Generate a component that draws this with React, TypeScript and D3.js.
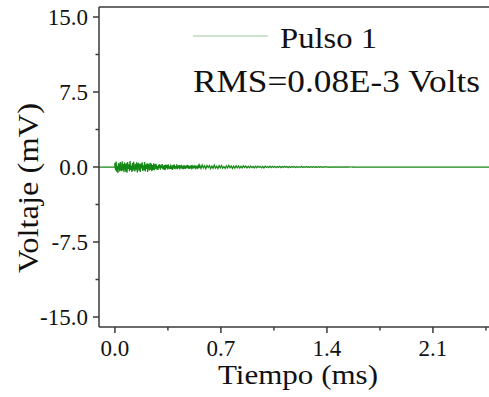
import React from "react";
import * as d3 from "d3";

// Signal samples (mV)
const burstStart = 0; // ms
const burstStep = 0.004; // ms per sample
const burstValues = [
  0.42, -0.31, 0.55, -0.48, 0.12, -0.6, 0.38, 0.2, -0.45, 0.5, -0.22, -0.4, 0.58, -0.35, 0.3, -0.52,
  0.44, 0.05, -0.47, 0.36, -0.58, 0.49, -0.18, 0.27, -0.42, 0.6, -0.3, 0.15, -0.5, 0.4, -0.38, 0.52,
  -0.1, -0.44, 0.33, -0.26, 0.48, -0.55, 0.22, 0.41, -0.36, 0.29, -0.49, 0.35, -0.15, 0.46, -0.4, 0.18,
  -0.32, 0.5, -0.45, 0.25, -0.2, 0.38, -0.5, 0.3, 0.08, -0.35, 0.42, -0.28, 0.34, -0.41, 0.2, -0.3, 0.37,
  -0.33, 0.26, -0.18, 0.31, -0.25, 0.1, -0.3, 0.22, -0.12, 0.28, -0.27, 0.17, -0.08, 0.3, -0.22, 0.15,
  -0.26, 0.2, -0.31, 0.24, -0.1, 0.18, -0.24, 0.27, -0.16, 0.06, -0.2, 0.25, -0.19, 0.12, -0.28, 0.21,
  -0.14, 0.23, -0.2, 0.09, -0.17, 0.26, -0.22, 0.14, -0.1, 0.2, -0.25, 0.16, -0.12, 0.22, -0.18, 0.08,
  -0.21, 0.19, -0.15, 0.11, -0.2, 0.17, -0.08, 0.21, -0.16, 0.13, -0.19, 0.1, -0.14, 0.18, -0.12, 0.06,
  -0.17, 0.15, -0.11, 0.16, -0.09, 0.12, -0.15, 0.14, -0.07, 0.13, -0.12,
];
const tailStart = 0.56; // ms
const tailStep = 0.008; // ms per sample
const tailValues = [
  0.17, -0.14, 0.2, -0.1, 0.12, -0.18, 0.15, -0.06, 0.14, -0.16, 0.09, -0.13, 0.18, -0.11, 0.07, -0.15,
  0.13, -0.09, 0.16, -0.12, 0.05, -0.14, 0.12, -0.1, 0.15, -0.08, 0.11, -0.13, 0.09, -0.12,
  0.12, -0.08, 0.1, -0.11, 0.06, -0.09, 0.11, -0.05, 0.09, -0.1, 0.07, -0.08, 0.1, -0.06, 0.05, -0.09,
  0.08, -0.07, 0.09, -0.04, 0.07, -0.08, 0.06, -0.09, 0.08, -0.05, 0.04, -0.07, 0.08, -0.06, 0.07, -0.05,
  0.06, -0.07, 0.05, -0.04, 0.07, -0.06, 0.04, -0.05, 0.06, -0.03, 0.05, -0.06, 0.04,
  -0.05, 0.05, -0.03, 0.04, -0.05, 0.03, -0.04, 0.04, -0.02, 0.05, -0.04, 0.03, -0.03, 0.04, -0.04, 0.02,
  -0.03, 0.04, -0.02, 0.03, -0.03, 0.02, -0.04, 0.03, -0.02, 0.03, -0.03, 0.02, -0.02, 0.03, -0.02, 0.02,
  -0.03, 0.01, -0.02, 0.02, -0.02, 0.02, -0.01, 0.02, -0.02, 0.01, -0.01, 0.02, -0.01, 0.01, -0.01, 0.01,
  -0.01, 0.01, 0.0, -0.01, 0.01, 0.0, 0.0,
];
const baselineTimes = [-0.105, 0, 1.62, 2.47];

const xTicks = [0.0, 0.7, 1.4, 2.1];
const xMinorTicks = [0.35, 1.05, 1.75, 2.45];
const yTicks = [-15.0, -7.5, 0.0, 7.5, 15.0];
const yMinorTicks = [-11.25, -3.75, 3.75, 11.25];

const xLabel = "Tiempo (ms)";
const yLabel = "Voltaje (mV)";
const legendLabel = "Pulso 1";
const rmsLabel = "RMS=0.08E-3 Volts";

const W = 489;
const H = 397;
const FONT = "Times New Roman, Times, Liberation Serif, Tinos, Nimbus Roman, serif";
const AXIS = "#3a3a3a";
const GREEN = "#148814";

export default function App() {
  const x = d3.scaleLinear().domain([-0.105, 2.47]).range([99, 489]);
  const y = d3.scaleLinear().domain([-16, 16]).range([327, 7]);

  const pts: [number, number][] = [];
  pts.push([baselineTimes[0], 0]);
  pts.push([baselineTimes[1], 0]);
  burstValues.forEach((v, i) => pts.push([burstStart + i * burstStep, v]));
  tailValues.forEach((v, i) => pts.push([tailStart + i * tailStep, v]));
  pts.push([baselineTimes[2], 0]);
  pts.push([baselineTimes[3], 0]);

  const line = d3
    .line<[number, number]>()
    .x((d) => x(d[0]))
    .y((d) => y(d[1]));

  const x0 = x.range()[0];
  const y0 = y.range()[0];
  const yTop = y.range()[1];
  const txt = { fontFamily: FONT, fill: "#111" } as React.CSSProperties;

  return (
    <svg
      width={W}
      height={H}
      style={{ position: "absolute", left: 0, top: 0, background: "#fff" }}
    >
      <rect x={0} y={0} width={W} height={H} fill="#fff" />
      {/* signal */}
      <path d={line(pts) || ""} fill="none" stroke={GREEN} strokeWidth={1.25} />
      {/* frame */}
      <line x1={x0} x2={W} y1={yTop} y2={yTop} stroke={AXIS} strokeWidth={1.5} />
      <line x1={x0} x2={x0} y1={yTop} y2={y0} stroke={AXIS} strokeWidth={1.5} />
      <line x1={x0} x2={W} y1={y0} y2={y0} stroke={AXIS} strokeWidth={1.5} />
      {/* y ticks */}
      {yTicks.map((t) => (
        <g key={"y" + t}>
          <line x1={x0 - 6} x2={x0} y1={y(t)} y2={y(t)} stroke={AXIS} strokeWidth={1.5} />
          <text x={x0 - 11} y={y(t)} dy="0.35em" textAnchor="end" fontSize={23} style={txt}>
            {t.toFixed(1)}
          </text>
        </g>
      ))}
      {yMinorTicks.map((t) => (
        <line key={"ym" + t} x1={x0 - 3.5} x2={x0} y1={y(t)} y2={y(t)} stroke={AXIS} strokeWidth={1.5} />
      ))}
      {/* x ticks */}
      {xTicks.map((t) => (
        <g key={"x" + t}>
          <line x1={x(t)} x2={x(t)} y1={y0} y2={y0 + 6} stroke={AXIS} strokeWidth={1.5} />
          <text x={x(t)} y={356} textAnchor="middle" fontSize={23} style={txt}>
            {t.toFixed(1)}
          </text>
        </g>
      ))}
      {xMinorTicks.map((t) => (
        <line key={"xm" + t} x1={x(t)} x2={x(t)} y1={y0} y2={y0 + 3.5} stroke={AXIS} strokeWidth={1.5} />
      ))}
      {/* axis titles */}
      <text
        x={298}
        y={384}
        textAnchor="middle"
        fontSize={27}
        style={txt}
        textLength={160}
        lengthAdjust="spacingAndGlyphs"
      >
        {xLabel}
      </text>
      <text
        transform={`translate(38,188) rotate(-90)`}
        textAnchor="middle"
        fontSize={30}
        style={txt}
        textLength={170}
        lengthAdjust="spacingAndGlyphs"
      >
        {yLabel}
      </text>
      {/* legend */}
      <line x1={193} x2={268} y1={36} y2={36} stroke="#9ccb9c" strokeWidth={1.2} />
      <text x={280} y={48} fontSize={30} style={txt} textLength={97} lengthAdjust="spacingAndGlyphs">
        {legendLabel}
      </text>
      <text x={193} y={92} fontSize={32} style={txt} textLength={287} lengthAdjust="spacingAndGlyphs">
        {rmsLabel}
      </text>
    </svg>
  );
}
